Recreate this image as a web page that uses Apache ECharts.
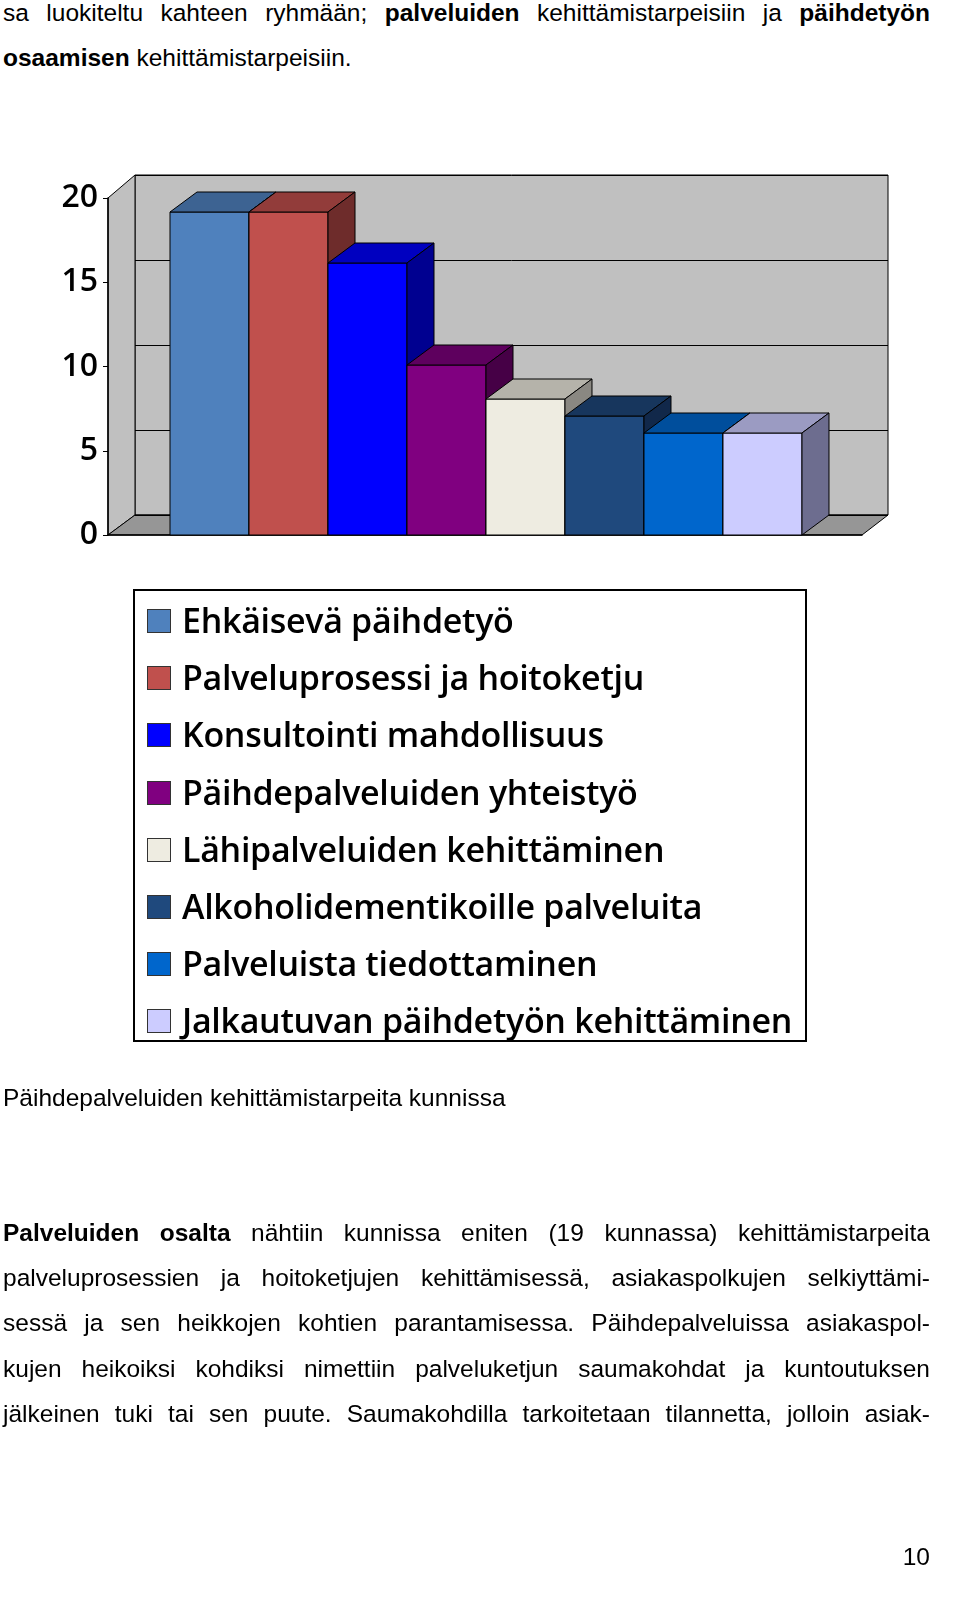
<!DOCTYPE html>
<html><head><meta charset="utf-8">
<script src="https://cdn.jsdelivr.net/npm/echarts@6/dist/echarts.min.js"></script>
<style>
body{margin:0;width:960px;height:1617px;position:relative;background:#fff;font-family:"Liberation Sans",Arial,sans-serif;color:#000;overflow:hidden}
.t{position:absolute;left:3px;width:927px;font-size:24.5px;line-height:45px;text-align:justify;text-align-last:justify}
.last{text-align-last:left}
#chart{position:absolute;left:0;top:0;width:960px;height:1617px}
#legend{position:absolute;left:133px;top:589px;width:674px;height:453px;border:2px solid #000;box-sizing:border-box;font-family:"Open Sans",sans-serif;font-weight:600;font-size:34px;letter-spacing:-0.3px}
.li{position:absolute;left:12px;height:40px;line-height:40px;white-space:nowrap}
.sw{display:inline-block;width:24px;height:24px;border:1.5px solid #333;box-sizing:border-box;vertical-align:middle;margin-right:11px;position:relative;top:-3px}
</style></head><body>
<div class="t" style="top:-10px">sa luokiteltu kahteen ryhmään; <b>palveluiden</b> kehittämistarpeisiin ja <b>päihdetyön</b></div>
<div class="t last" style="top:35px"><b>osaamisen</b> kehittämistarpeisiin.</div>
<div id="chart"></div>
<div id="legend"></div>
<div class="t last" style="top:1075px">Päihdepalveluiden kehittämistarpeita kunnissa</div>
<div class="t" style="top:1210px"><b>Palveluiden osalta</b> nähtiin kunnissa eniten (19 kunnassa) kehittämistarpeita</div>
<div class="t" style="top:1255px">palveluprosessien ja hoitoketjujen kehittämisessä, asiakaspolkujen selkiyttämi-</div>
<div class="t" style="top:1300px">sessä ja sen heikkojen kohtien parantamisessa. Päihdepalveluissa asiakaspol-</div>
<div class="t" style="top:1346px">kujen heikoiksi kohdiksi nimettiin palveluketjun saumakohdat ja kuntoutuksen</div>
<div class="t" style="top:1391px">jälkeinen tuki tai sen puute. Saumakohdilla tarkoitetaan tilannetta, jolloin asiak-</div>
<div style="position:absolute;right:30px;top:1543px;font-size:24.5px">10</div>
<script>
const categories=["Ehkäisevä päihdetyö","Palveluprosessi ja hoitoketju","Konsultointi mahdollisuus","Päihdepalveluiden yhteistyö","Lähipalveluiden kehittäminen","Alkoholidementikoille palveluita","Palveluista tiedottaminen","Jalkautuvan päihdetyön kehittäminen"];
const values=[19,19,16,10,8,7,6,6];
const colors=["#4f81bd","#c0504d","#0000ff","#800080","#eeece1","#1f497d","#0066cc","#ccccff"];
const tops=["#3d6392","#923c3a","#0000c0","#5e005e","#b5b3aa","#17365d","#004e9c","#9b9bc2"];
const sides=["#2d4a6e","#6e2c2b","#000090","#460046","#8a8882","#11284a","#003a75","#6d6d8f"];
const yTicks=[0,5,10,15,20];

const lg=document.getElementById('legend');
categories.forEach((c,i)=>{const d=document.createElement('div');d.className='li';d.style.top=(9+i*57.2)+'px';
d.innerHTML='<span class="sw" style="background:'+colors[i]+'"></span>'+c;lg.appendChild(d);});

const ch=echarts.init(document.getElementById('chart'));
const DX=27,DY=20;
ch.setOption({
 animation:false,
 grid:[{left:135,right:72,top:175,bottom:1102},{left:108,right:98,top:198,bottom:1082}],
 xAxis:[{gridIndex:0,type:'value',min:-0.785,max:8.747,show:false},
        {gridIndex:1,type:'value',min:0,max:1,axisLine:{show:true,lineStyle:{color:'#000',width:1.5}},axisTick:{show:false},axisLabel:{show:false},splitLine:{show:false}}],
 yAxis:[{gridIndex:0,type:'value',min:0,max:20,interval:5,axisLine:{show:false},axisTick:{show:false},axisLabel:{show:false},splitLine:{lineStyle:{color:'#000',width:1}}},
        {gridIndex:1,type:'value',min:0,max:20,interval:5,axisLine:{show:true,lineStyle:{color:'#000',width:1.5}},axisTick:{show:true,length:5,lineStyle:{color:'#000'}},
         axisLabel:{fontFamily:'Open Sans',fontWeight:600,fontSize:32,color:'#000',margin:10},splitLine:{show:false}}],
 graphic:[
  {type:'rect',z:-10,shape:{x:135,y:175,width:753,height:340},style:{fill:'#c0c0c0',stroke:'#000',lineWidth:1}},
  {type:'polygon',z:-10,shape:{points:[[108,198],[135,175],[135,515],[108,535]]},style:{fill:'#c0c0c0',stroke:'#000',lineWidth:1}},
  {type:'polygon',z:-10,shape:{points:[[108,535],[135,515],[888,515],[862,535]]},style:{fill:'#969696',stroke:'#000',lineWidth:1}}
 ],
 series:[{type:'custom',xAxisIndex:0,yAxisIndex:0,z:5,
  data:values.map((v,i)=>[i,v]),
  renderItem:function(params,api){
   const i=api.value(0),v=api.value(1);
   const bl=api.coord([i,v]),br=api.coord([i+1,v]),b0=api.coord([i+1,0]);
   const fl=[bl[0]-DX,bl[1]+DY],fr=[br[0]-DX,br[1]+DY],f0r=[b0[0]-DX,b0[1]+DY];
   const st={stroke:'#000',lineWidth:1};
   return {type:'group',children:[
    {type:'rect',shape:{x:fl[0],y:fl[1],width:fr[0]-fl[0],height:f0r[1]-fl[1]},style:Object.assign({fill:colors[i]},st)},
    {type:'polygon',shape:{points:[fl,fr,br,bl]},style:Object.assign({fill:tops[i]},st)},
    {type:'polygon',shape:{points:[fr,br,b0,f0r]},style:Object.assign({fill:sides[i]},st)}
   ]};
  }}]
});
</script>
</body></html>
